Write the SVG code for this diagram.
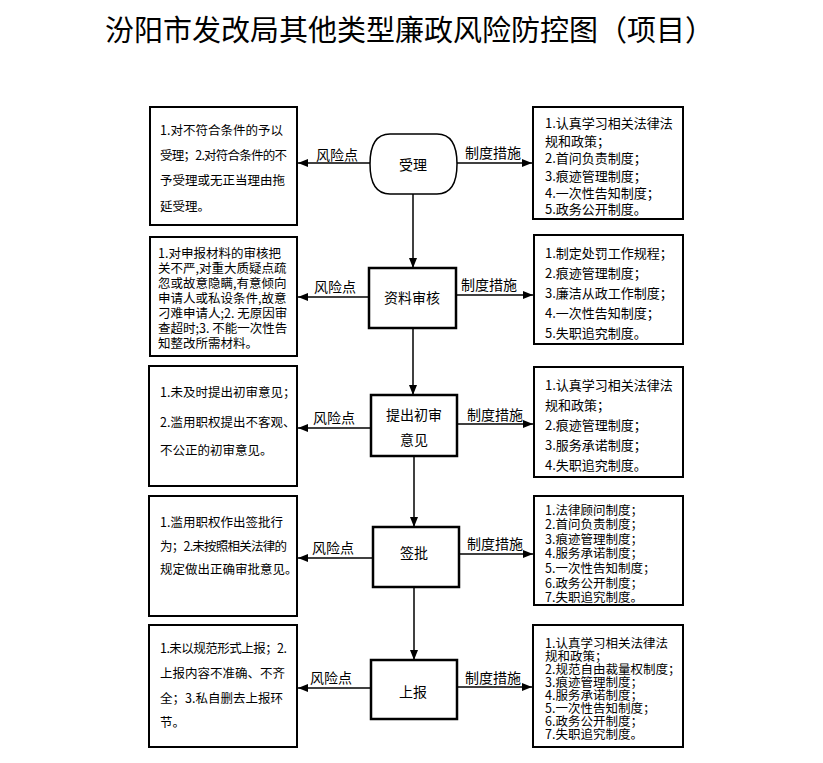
<svg xmlns="http://www.w3.org/2000/svg" width="823" height="763" viewBox="0 0 823 763">
<style>
.bg{fill:#fff}
.box{fill:#fff;stroke:#000;stroke-width:2}
.node{fill:#fff;stroke:#000;stroke-width:2.5}
.pill{fill:#fff;stroke:#000;stroke-width:1.5}
.t{font-family:"Noto Sans CJK SC","Liberation Sans",sans-serif;font-size:12.5px;fill:#000}
.r{font-family:"Noto Sans CJK SC","Liberation Sans",sans-serif;font-size:13px;fill:#000}
.rs{font-family:"Noto Sans CJK SC","Liberation Sans",sans-serif;font-size:12.5px;fill:#000}
.lb{font-family:"Noto Sans CJK SC","Liberation Sans",sans-serif;font-size:14px;fill:#000}
.nt{font-family:"Noto Sans CJK SC","Liberation Sans",sans-serif;font-size:14px;fill:#000;text-anchor:middle}
.title{font-family:"Noto Sans CJK SC","Liberation Serif",serif;font-size:29px;fill:#000}
.c{stroke:#000;stroke-width:1.5;fill:none;marker-end:url(#ah)}
</style>
<defs>
<marker id="ah" markerUnits="userSpaceOnUse" markerWidth="10" markerHeight="8" refX="10" refY="4" orient="auto">
<path d="M0,0 L10,4 L0,8 z" fill="#000"/>
</marker>
</defs>
<rect class="bg" x="0" y="0" width="823" height="763"/>
<text class="title" x="105" y="41">汾阳市发改局其他类型廉政风险防控图（项目）</text>

<g id="connectors">
<line class="c" x1="413" y1="194" x2="413" y2="268"/>
<line class="c" x1="413" y1="328" x2="413" y2="395"/>
<line class="c" x1="414" y1="456" x2="414" y2="527"/>
<line class="c" x1="414" y1="587" x2="414" y2="660"/>
<line class="c" x1="370" y1="163" x2="298" y2="163"/>
<line class="c" x1="457" y1="163" x2="532" y2="163"/>
<line class="c" x1="369" y1="297" x2="298" y2="297"/>
<line class="c" x1="456" y1="295" x2="533" y2="295"/>
<line class="c" x1="371" y1="428" x2="298" y2="428"/>
<line class="c" x1="457" y1="424" x2="533" y2="424"/>
<line class="c" x1="373" y1="558" x2="298" y2="558"/>
<line class="c" x1="459" y1="554" x2="533" y2="554"/>
<line class="c" x1="371" y1="688" x2="298" y2="688"/>
<line class="c" x1="457" y1="687" x2="532" y2="687"/>
<text class="lb" x="316" y="160">风险点</text>
<text class="lb" x="465" y="158">制度措施</text>
<text class="lb" x="314" y="292">风险点</text>
<text class="lb" x="461" y="290">制度措施</text>
<text class="lb" x="313" y="423">风险点</text>
<text class="lb" x="467" y="420">制度措施</text>
<text class="lb" x="312" y="553">风险点</text>
<text class="lb" x="467" y="549">制度措施</text>
<text class="lb" x="310" y="683">风险点</text>
<text class="lb" x="465" y="683">制度措施</text>
</g>

<g id="n1">
<path class="pill" d="M390,134 H437 Q457,134 457,164 Q457,194 437,194 H390 Q370,194 370,164 Q370,134 390,134 Z"/>
<text class="nt" x="413" y="170">受理</text>
</g>
<g id="n2">
<rect class="node" x="369" y="268" width="87" height="60"/>
<text class="nt" x="412" y="303">资料审核</text>
</g>
<g id="n3">
<rect class="node" x="371" y="395" width="86" height="61"/>
<text class="nt" x="414" y="420">提出初审</text>
<text class="nt" x="414" y="445">意见</text>
</g>
<g id="n4">
<rect class="node" x="373" y="527" width="86" height="60"/>
<text class="nt" x="414" y="558">签批</text>
</g>
<g id="n5">
<rect class="node" x="371" y="660" width="86" height="59"/>
<text class="nt" x="413" y="697">上报</text>
</g>

<g id="risk1">
<rect class="box" x="150" y="107" width="147" height="118"/>
<text class="t" x="160" y="135">1.对不符合条件的予以</text>
<text class="t" x="160" y="160" textLength="127">受理；2.对符合条件的不</text>
<text class="t" x="160" y="185">予受理或无正当理由拖</text>
<text class="t" x="160" y="211">延受理。</text>
</g>
<g id="risk2">
<rect class="box" x="150" y="237" width="147" height="119"/>
<text class="t" x="158" y="258">1.对申报材料的审核把</text>
<text class="t" x="158" y="273">关不严,对重大质疑点疏</text>
<text class="t" x="158" y="288">忽或故意隐瞒,有意倾向</text>
<text class="t" x="158" y="303">申请人或私设条件,故意</text>
<text class="t" x="158" y="318">刁难申请人;2. 无原因审</text>
<text class="t" x="158" y="333">查超时;3. 不能一次性告</text>
<text class="t" x="158" y="348">知整改所需材料。</text>
</g>
<g id="risk3">
<rect class="box" x="149" y="366" width="148" height="120"/>
<text class="t" x="160" y="397">1.未及时提出初审意见；</text>
<text class="t" x="160" y="427">2.滥用职权提出不客观、</text>
<text class="t" x="160" y="455">不公正的初审意见。</text>
</g>
<g id="risk4">
<rect class="box" x="149" y="496" width="148" height="120"/>
<text class="t" x="160" y="527">1.滥用职权作出签批行</text>
<text class="t" x="160" y="551" textLength="127">为；2.未按照相关法律的</text>
<text class="t" x="160" y="574">规定做出正确审批意见。</text>
</g>
<g id="risk5">
<rect class="box" x="149" y="625" width="148" height="122"/>
<text class="t" x="160" y="653" textLength="127">1.未以规范形式上报；2.</text>
<text class="t" x="160" y="678">上报内容不准确、不齐</text>
<text class="t" x="160" y="703">全；3.私自删去上报环</text>
<text class="t" x="160" y="727">节。</text>
</g>

<g id="measure1">
<rect class="box" x="533" y="107" width="150" height="112"/>
<text class="r" x="545" y="128">1.认真学习相关法律法</text>
<text class="r" x="545" y="146">规和政策；</text>
<text class="r" x="545" y="163">2.首问负责制度；</text>
<text class="r" x="545" y="181">3.痕迹管理制度；</text>
<text class="r" x="545" y="198">4.一次性告知制度；</text>
<text class="r" x="545" y="214">5.政务公开制度。</text>
</g>
<g id="measure2">
<rect class="box" x="534" y="235" width="149" height="109"/>
<text class="r" x="545" y="258">1.制定处罚工作规程；</text>
<text class="r" x="545" y="278">2.痕迹管理制度；</text>
<text class="r" x="545" y="298">3.廉洁从政工作制度；</text>
<text class="r" x="545" y="318">4.一次性告知制度；</text>
<text class="r" x="545" y="338">5.失职追究制度。</text>
</g>
<g id="measure3">
<rect class="box" x="534" y="367" width="149" height="110"/>
<text class="r" x="545" y="390">1.认真学习相关法律法</text>
<text class="r" x="545" y="410">规和政策；</text>
<text class="r" x="545" y="430">2.痕迹管理制度；</text>
<text class="r" x="545" y="450">3.服务承诺制度；</text>
<text class="r" x="545" y="470">4.失职追究制度。</text>
</g>
<g id="measure4">
<rect class="box" x="534" y="496" width="149" height="109"/>
<text class="rs" x="545" y="515">1.法律顾问制度；</text>
<text class="rs" x="545" y="529">2.首问负责制度；</text>
<text class="rs" x="545" y="544">3.痕迹管理制度；</text>
<text class="rs" x="545" y="558">4.服务承诺制度；</text>
<text class="rs" x="545" y="573">5.一次性告知制度；</text>
<text class="rs" x="545" y="588">6.政务公开制度；</text>
<text class="rs" x="545" y="602">7.失职追究制度。</text>
</g>
<g id="measure5">
<rect class="box" x="533" y="625" width="150" height="122"/>
<text class="rs" x="545" y="648">1.认真学习相关法律法</text>
<text class="rs" x="545" y="661">规和政策；</text>
<text class="rs" x="545" y="674">2.规范自由裁量权制度；</text>
<text class="rs" x="545" y="687">3.痕迹管理制度；</text>
<text class="rs" x="545" y="700">4.服务承诺制度；</text>
<text class="rs" x="545" y="713">5.一次性告知制度；</text>
<text class="rs" x="545" y="726">6.政务公开制度；</text>
<text class="rs" x="545" y="739">7.失职追究制度。</text>
</g>
</svg>
